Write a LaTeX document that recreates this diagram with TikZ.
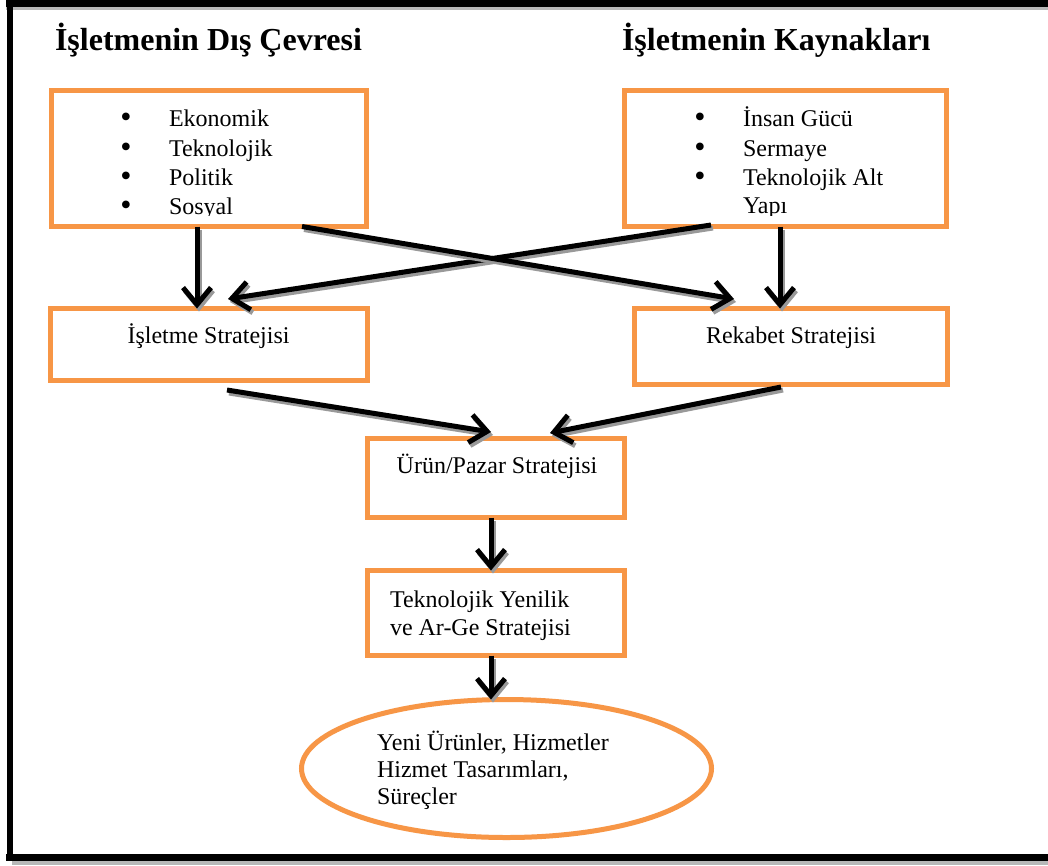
\documentclass[tikz,border=0pt]{standalone}
\usepackage{fontspec}
\setmainfont{Liberation Serif}
\usetikzlibrary{arrows.meta,shapes.geometric}
\definecolor{boxorange}{HTML}{F79646}
\definecolor{shadowgray}{HTML}{999999}
\tikzset{
  obox/.style={draw=boxorange, line width=5pt, rectangle, inner sep=0pt, outer sep=0pt},
  oell/.style={draw=boxorange, line width=5pt, ellipse, inner sep=0pt, outer sep=0pt},
  body/.style={font=\fontsize{24}{28}\selectfont, inner sep=0pt, outer sep=0pt, anchor=base west},
  ctext/.style={font=\fontsize{24}{28}\selectfont, inner sep=0pt, outer sep=0pt, anchor=base},
  ttl/.style={font=\bfseries\fontsize{32}{38}\selectfont, inner sep=0pt, outer sep=0pt, anchor=base west},
  bul/.style={font=\fontsize{32}{32}\selectfont, inner sep=0pt, outer sep=0pt, anchor=center},
  conn/.style={line width=5pt, -{Straight Barb[length=17pt,width=28pt]}},
  connsh/.style={conn, draw=shadowgray, transform canvas={xshift=2pt,yshift=-3pt}},
}
\newcommand\sarrow[2]{\draw[connsh] #1 -- #2; \draw[conn] #1 -- #2;}
\begin{document}
\begin{tikzpicture}[x=1pt,y=-1pt]
\useasboundingbox (0,0) rectangle (1048,865);
\fill[white] (0,0) rectangle (1048,865);

% frame
\draw[line width=3pt, shadowgray!70] (6,8.5) -- (1048,8.5);
\draw[line width=7pt] (6,3.5) -- (1048,3.5);
\draw[line width=4pt, shadowgray!70] (12,863) -- (1048,863);
\draw[line width=7pt] (6,857.5) -- (1048,857.5);
\draw[line width=6pt] (9.5,0) -- (9.5,861);

% titles
\node[ttl] (t1) at (55,50) {İşletmenin Dış Çevresi};
\node[ttl] (t2) at (622,50) {İşletmenin Kaynakları};

% boxes
\node[obox, minimum width=315pt, minimum height=136pt] (tl) at (209,158.5) {};
\node[obox, minimum width=322pt, minimum height=136pt] (tr) at (785.5,158.5) {};
\node[obox, minimum width=317pt, minimum height=72pt] (is) at (209,344.5) {};
\node[obox, minimum width=313pt, minimum height=76pt] (rk) at (791,346.5) {};
\node[obox, minimum width=257pt, minimum height=79pt] (up) at (496,478) {};
\node[obox, minimum width=257pt, minimum height=85pt] (tk) at (496,613) {};
\node[oell, minimum width=410pt, minimum height=138pt] (el) at (506.5,768.5) {};

% list texts (clipped like the original text boxes)
\begin{scope}
\clip (0,90) rectangle (1048,215.5);
\node[bul] (b1) at (126,120) {•};
\node[bul] (b2) at (126,150) {•};
\node[bul] (b3) at (126,179) {•};
\node[bul] (b4) at (126,208) {•};
\node[body] (l1) at (169,126) {Ekonomik};
\node[body] (l2) at (169,156) {Teknolojik};
\node[body] (l3) at (169,185) {Politik};
\node[body] (l4) at (169,214) {Sosyal};
\node[bul] (c1) at (700,120) {•};
\node[bul] (c2) at (700,150) {•};
\node[bul] (c3) at (700,179) {•};
\node[body] (r1) at (743,126) {İnsan Gücü};
\node[body] (r2) at (743,156) {Sermaye};
\node[body] (r3) at (743,185) {Teknolojik Alt};
\node[body] (r4) at (743,213) {Yapı};
\end{scope}

% box texts
\node[ctext] (ist) at (208.5,343) {İşletme Stratejisi};
\node[ctext] (rkt) at (791,343) {Rekabet Stratejisi};
\node[ctext] (upt) at (497,473) {Ürün/Pazar Stratejisi};
\node[body] (tk1) at (390,607) {Teknolojik Yenilik};
\node[body] (tk2) at (390,635) {ve Ar-Ge Stratejisi};
\node[body] (e1) at (377,750) {Yeni Ürünler, Hizmetler};
\node[body] (e2) at (377,777) {Hizmet Tasarımları,};
\node[body] (e3) at (377,804) {Süreçler};

% connectors
\sarrow{([xshift=-12pt]tl.south)}{([xshift=-12pt]is.north)}
\sarrow{([xshift=-5.5pt]tr.south)}{([xshift=-11pt]rk.north)}
\sarrow{([xshift=-74.5pt,yshift=1.5pt]tr.south)}{([xshift=19pt,yshift=9.5pt]is.north)}
\sarrow{([xshift=93pt]tl.south)}{([xshift=-57pt,yshift=9.5pt]rk.north)}
\sarrow{([xshift=18pt,yshift=-9.5pt]is.south)}{([xshift=-5pt,yshift=6.5pt]up.north)}
\sarrow{([xshift=-10pt,yshift=-2.5pt]rk.south)}{([xshift=54pt,yshift=5.5pt]up.north)}
\sarrow{([xshift=-5pt]up.south)}{([xshift=-5pt]tk.north)}
\sarrow{([xshift=-5pt]tk.south)}{([xshift=-15.5pt]el.north)}
\end{tikzpicture}
\end{document}
